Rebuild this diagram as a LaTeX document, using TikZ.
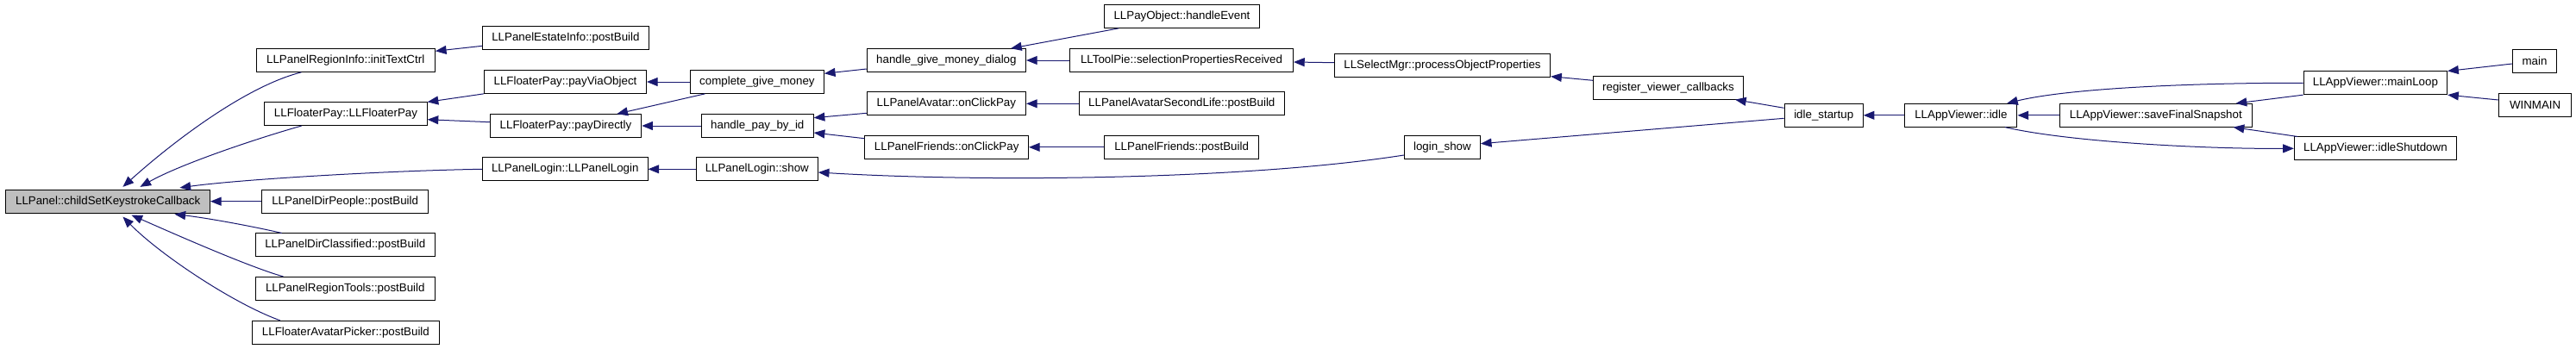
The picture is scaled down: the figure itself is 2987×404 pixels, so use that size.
\documentclass[tikz,border=0pt]{standalone}
\usepackage{fontspec}
\setmainfont{Liberation Sans}
\usetikzlibrary{arrows.meta,calc}
\definecolor{edgeblue}{HTML}{191970}
\definecolor{rootgray}{HTML}{BFBFBF}
\tikzset{
  box/.style={draw=black, line width=0.75pt, inner sep=0pt, minimum height=20pt, font=\fontsize{10}{12}\selectfont, fill=white},
  edge/.style={draw=edgeblue, line width=0.75pt, -{Triangle[length=9.5pt,width=7.5pt]}, edgeblue}
}
\newcommand\nd[5]{\node[box, minimum width=#4*0.75pt] (#1) at (#2,#3) {#5};}
\begin{document}
\begin{tikzpicture}[x=0.75pt,y=-0.75pt]
\useasboundingbox (0,0) rectangle (2987,404);
% nodes
\node[box, fill=rootgray, minimum width=236.5*0.75pt] (root) at (125.2,233.7) {LLPanel::childSetKeystrokeCallback};
\nd{initText}{400.7}{70}{207.4}{LLPanelRegionInfo::initTextCtrl}
\nd{fpay}{401}{132.2}{188.3}{LLFloaterPay::LLFloaterPay}
\nd{dirPeople}{400.2}{233.7}{192.5}{LLPanelDirPeople::postBuild}
\nd{dirClass}{400.3}{284.3}{208.2}{LLPanelDirClassified::postBuild}
\nd{regTools}{400.3}{334.8}{208.2}{LLPanelRegionTools::postBuild}
\nd{avPicker}{400.9}{385.7}{217}{LLFloaterAvatarPicker::postBuild}
\nd{estate}{655.9}{44.3}{192.7}{LLPanelEstateInfo::postBuild}
\nd{payVia}{655.5}{95}{188}{LLFloaterPay::payViaObject}
\nd{payDir}{656}{146}{175.5}{LLFloaterPay::payDirectly}
\nd{login}{655.3}{196.3}{191.5}{LLPanelLogin::LLPanelLogin}
\nd{cgm}{877.9}{95}{155}{complete\_give\_money}
\nd{hpbi}{878.3}{146}{129.8}{handle\_pay\_by\_id}
\nd{lshow}{877.8}{196.3}{141}{LLPanelLogin::show}
\nd{hgmd}{1097.4}{70}{184.3}{handle\_give\_money\_dialog}
\nd{avClick}{1097.4}{120.3}{184.3}{LLPanelAvatar::onClickPay}
\nd{frClick}{1097.7}{170.8}{189.6}{LLPanelFriends::onClickPay}
\nd{payObj}{1370.5}{19}{180.6}{LLPayObject::handleEvent}
\nd{toolPie}{1370}{70}{259.1}{LLToolPie::selectionPropertiesReceived}
\nd{avSL}{1370.3}{120.3}{238.4}{LLPanelAvatarSecondLife::postBuild}
\nd{frPost}{1370.1}{170.8}{178.4}{LLPanelFriends::postBuild}
\nd{procObj}{1672.5}{76.3}{250.3}{LLSelectMgr::processObjectProperties}
\nd{loginShow}{1672.4}{170.8}{88}{login\_show}
\nd{rvc}{1934.5}{101.8}{174.1}{register\_viewer\_callbacks}
\nd{idleStart}{2114.7}{133.8}{91.2}{idle\_startup}
\nd{idle}{2273.9}{133.8}{130.1}{LLAppViewer::idle}
\nd{saveSnap}{2499.8}{133.8}{223.5}{LLAppViewer::saveFinalSnapshot}
\nd{mainLoop}{2754.4}{96.3}{166.5}{LLAppViewer::mainLoop}
\nd{idleShut}{2754.4}{172.3}{188.1}{LLAppViewer::idleShutdown}
\nd{mainN}{2939}{70.8}{51.1}{main}
\nd{winmain}{2939.6}{121.8}{84.1}{WINMAIN}
% edges into root
\draw[edge] ($(initText.south west)+(53,0)$) .. controls (285,100) and (200,165) .. ($(root.north west)+(136,-3)$);
\draw[edge] ($(fpay.south west)+(43.3,0)$) .. controls (300,160) and (210,190) .. ($(root.north west)+(156,-3)$);
\draw[edge] (login.west) .. controls (450,198) and (280,208) .. ($(root.north west)+(202,-2)$);
\draw[edge] (dirPeople.west) -- (root.east);
\draw[edge] ($(dirClass.north west)+(31,0)$) .. controls (290,262) and (240,253) .. ($(root.south west)+(196,1)$);
\draw[edge] ($(regTools.north west)+(32.8,0)$) .. controls (290,310) and (210,275) .. ($(root.south west)+(146,2)$);
\draw[edge] ($(avPicker.north west)+(32.9,0)$) .. controls (270,352) and (185,295) .. ($(root.south west)+(136,4)$);
% second column
\draw[edge] ($(estate.west)+(0,9)$) -- ($(initText.east)+(0,-10.7)$);
\draw[edge] (payVia.south west) -- (fpay.north east);
\draw[edge] ($(payDir.west)+(0,-4.3)$) -- ($(fpay.east)+(0,6.5)$);
\draw[edge] (cgm.west) -- (payVia.east);
\draw[edge] ($(cgm.south west)+(17.6,0)$) -- ($(payDir.north west)+(147.6,0)$);
\draw[edge] (hpbi.west) -- (payDir.east);
\draw[edge] (lshow.west) -- (login.east);
\draw[edge] ($(hgmd.west)+(0,10)$) -- ($(cgm.east)+(0,-9.7)$);
\draw[edge] ($(avClick.west)+(0,11)$) -- ($(hpbi.east)+(0,-9.3)$);
\draw[edge] ($(frClick.west)+(0,-10.1)$) -- ($(hpbi.east)+(0,8)$);
\draw[edge] ($(loginShow.west)+(0,9.2)$) .. controls (1450,208) and (1150,212) .. ($(lshow.east)+(0,3.7)$);
\draw[edge] ($(payObj.south west)+(17.6,0)$) -- ($(hgmd.north east)+(-18,0)$);
\draw[edge] (toolPie.west) -- (hgmd.east);
\draw[edge] (avSL.west) -- (avClick.east);
\draw[edge] (frPost.west) -- (frClick.east);
\draw[edge] ($(procObj.west)+(0,-3.6)$) -- ($(toolPie.east)+(0,2)$);
\draw[edge] ($(rvc.west)+(0,-8.5)$) -- ($(procObj.east)+(0,12.4)$);
\draw[edge] ($(idleStart.west)+(0,-8.5)$) -- ($(rvc.south east)+(-10,0)$);
\draw[edge] ($(idleStart.west)+(0,3.5)$) -- ($(loginShow.east)+(0,-4.1)$);
\draw[edge] (idle.west) -- (idleStart.east);
\draw[edge] (mainLoop.west) .. controls (2550,96) and (2400,102) .. ($(idle.north east)+(-12.4,0)$);
\draw[edge] (saveSnap.west) -- (idle.east);
\draw[edge] ($(idle.south east)+(-14.4,0)$) .. controls (2400,165) and (2560,173) .. (idleShut.west);
\draw[edge] (mainLoop.south west) -- ($(saveSnap.north east)+(-19.5,0)$);
\draw[edge] ($(idleShut.north west)+(4.2,0)$) -- ($(saveSnap.south east)+(-22.5,0)$);
\draw[edge] ($(mainN.west)+(0,3.2)$) -- (mainLoop.north east);
\draw[edge] ($(winmain.west)+(0,-5.8)$) -- (mainLoop.south east);
\end{tikzpicture}
\end{document}
